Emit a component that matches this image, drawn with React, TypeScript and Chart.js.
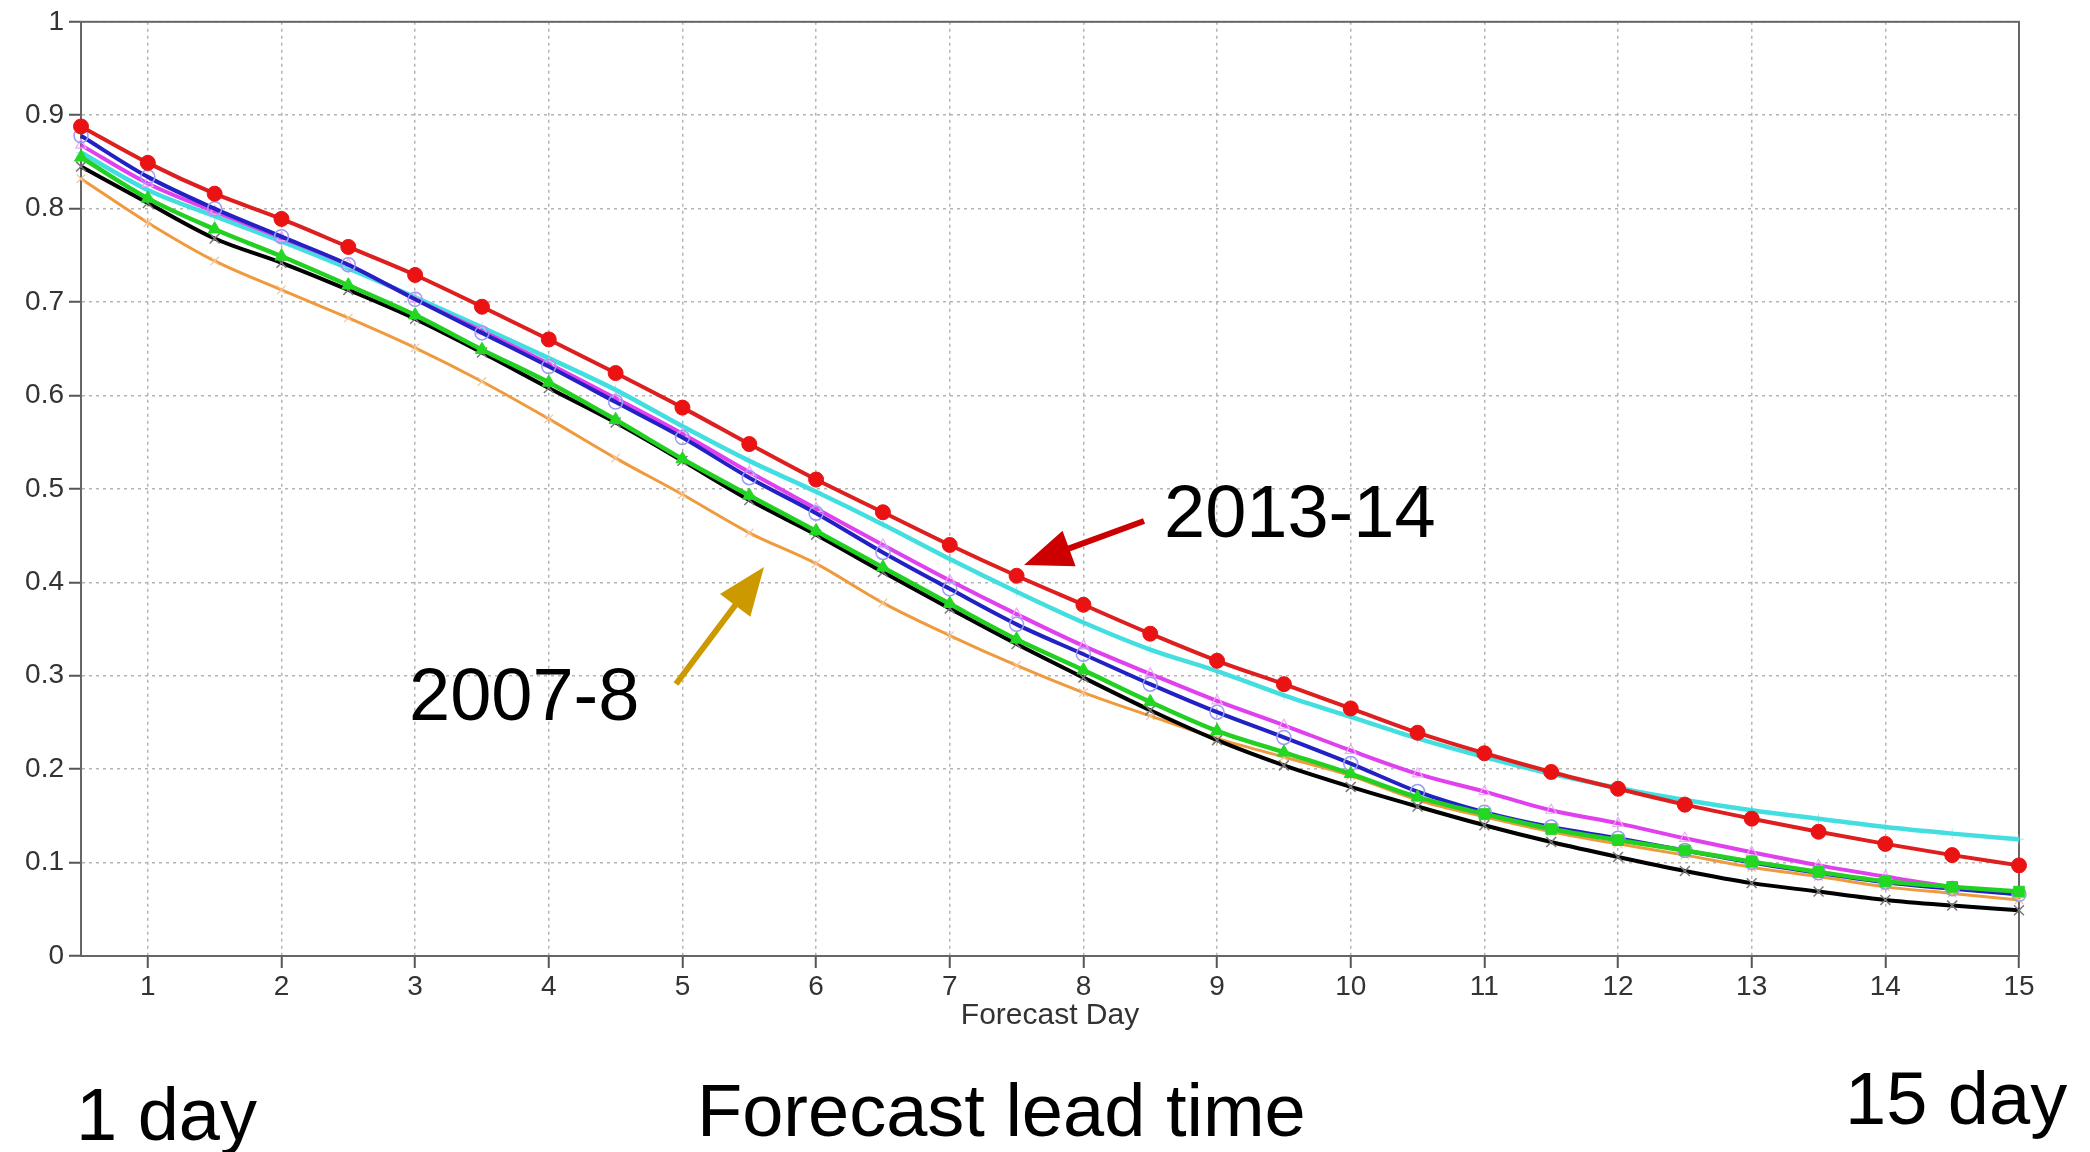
import React, { useEffect, useRef } from 'react';
import { Chart, registerables } from 'chart.js';

Chart.register(...registerables);

const FONT = '"Liberation Sans", Arial, Helvetica, sans-serif';

// Forecast lead time (days)
const days = [0.5, 1, 1.5, 2, 2.5, 3, 3.5, 4, 4.5, 5, 5.5, 6, 6.5, 7, 7.5, 8, 8.5, 9, 9.5, 10, 10.5, 11, 11.5, 12, 12.5, 13, 13.5, 14, 14.5, 15];
const xTickValues = [1, 2, 3, 4, 5, 6, 7, 8, 9, 10, 11, 12, 13, 14, 15];

// Series
const red2013_14 = [0.888, 0.849, 0.816, 0.789, 0.759, 0.729, 0.695, 0.660, 0.624, 0.587, 0.548, 0.510, 0.475, 0.440, 0.407, 0.376, 0.345, 0.316, 0.291, 0.265, 0.239, 0.217, 0.197, 0.179, 0.162, 0.147, 0.133, 0.120, 0.108, 0.097];
const cyanSeries = [0.860, 0.820, 0.792, 0.765, 0.736, 0.705, 0.673, 0.640, 0.606, 0.567, 0.530, 0.497, 0.462, 0.425, 0.390, 0.357, 0.328, 0.305, 0.279, 0.256, 0.233, 0.213, 0.195, 0.180, 0.167, 0.156, 0.147, 0.138, 0.131, 0.125];
const magentaSeries = [0.868, 0.827, 0.797, 0.769, 0.740, 0.703, 0.669, 0.634, 0.597, 0.559, 0.518, 0.479, 0.440, 0.402, 0.366, 0.332, 0.302, 0.273, 0.247, 0.220, 0.195, 0.176, 0.156, 0.142, 0.126, 0.111, 0.097, 0.085, 0.074, 0.066];
const blueSeries = [0.878, 0.834, 0.800, 0.770, 0.740, 0.703, 0.667, 0.631, 0.593, 0.555, 0.512, 0.474, 0.432, 0.393, 0.355, 0.323, 0.291, 0.261, 0.234, 0.206, 0.176, 0.154, 0.138, 0.126, 0.113, 0.100, 0.089, 0.079, 0.072, 0.066];
const greenSeries = [0.855, 0.811, 0.778, 0.749, 0.718, 0.686, 0.649, 0.614, 0.574, 0.532, 0.493, 0.455, 0.416, 0.377, 0.339, 0.306, 0.272, 0.241, 0.218, 0.195, 0.170, 0.152, 0.136, 0.124, 0.113, 0.101, 0.090, 0.080, 0.074, 0.069];
const blackSeries = [0.845, 0.806, 0.768, 0.742, 0.713, 0.682, 0.646, 0.608, 0.571, 0.530, 0.488, 0.451, 0.411, 0.372, 0.334, 0.298, 0.263, 0.231, 0.204, 0.181, 0.160, 0.140, 0.122, 0.106, 0.091, 0.078, 0.069, 0.060, 0.054, 0.049];
const orange2007_8 = [0.832, 0.785, 0.744, 0.713, 0.683, 0.651, 0.615, 0.575, 0.533, 0.494, 0.453, 0.420, 0.378, 0.343, 0.311, 0.282, 0.257, 0.233, 0.213, 0.193, 0.167, 0.149, 0.133, 0.120, 0.108, 0.095, 0.085, 0.074, 0.067, 0.060];

const toPoints = (vals: number[]) => days.map((d, i) => ({ x: d, y: vals[i] }));

function drawArrow(ctx: CanvasRenderingContext2D, x1: number, y1: number, x2: number, y2: number, color: string) {
  const ang = Math.atan2(y2 - y1, x2 - x1);
  const headLen = 48;
  const headHalf = 19;
  const bx = x2 - headLen * Math.cos(ang);
  const by = y2 - headLen * Math.sin(ang);
  ctx.save();
  ctx.strokeStyle = color;
  ctx.fillStyle = color;
  ctx.lineWidth = 6;
  ctx.lineCap = 'butt';
  ctx.beginPath();
  ctx.moveTo(x1, y1);
  ctx.lineTo(bx + 2 * Math.cos(ang), by + 2 * Math.sin(ang));
  ctx.stroke();
  ctx.beginPath();
  ctx.moveTo(x2, y2);
  ctx.lineTo(bx + headHalf * Math.sin(ang), by - headHalf * Math.cos(ang));
  ctx.lineTo(bx - headHalf * Math.sin(ang), by + headHalf * Math.cos(ang));
  ctx.closePath();
  ctx.fill();
  ctx.restore();
}

const framePlugin = {
  id: 'frame',
  beforeDatasetsDraw(chart: any) {
    const { ctx, chartArea } = chart;
    ctx.save();
    ctx.strokeStyle = '#666';
    ctx.lineWidth = 2;
    ctx.strokeRect(chartArea.left, chartArea.top, chartArea.right - chartArea.left, chartArea.bottom - chartArea.top);
    ctx.restore();
  },
};

const annotationPlugin = {
  id: 'annotations',
  afterDraw(chart: any) {
    const ctx: CanvasRenderingContext2D = chart.ctx;
    ctx.save();
    ctx.fillStyle = '#000';
    ctx.font = `74px ${FONT}`;
    ctx.textAlign = 'left';
    ctx.textBaseline = 'alphabetic';
    ctx.fillText('2013-14', 1164, 537);
    ctx.fillText('2007-8', 409, 720);
    ctx.fillText('1 day', 76, 1140);
    ctx.fillText('Forecast lead time', 697, 1136);
    ctx.fillText('15 day', 1845, 1124);
    ctx.restore();
    drawArrow(ctx, 1144, 521, 1024, 565, '#cc0000');
    drawArrow(ctx, 676, 684, 764, 567, '#cc9900');
  },
};

export default function App() {
  const ref = useRef<HTMLCanvasElement | null>(null);

  useEffect(() => {
    if (!ref.current) return;
    const datasets: any[] = [
      {
        label: '2013-14',
        data: toPoints(red2013_14),
        borderColor: '#dd1f1f',
        backgroundColor: '#ea1212',
        borderWidth: 4,
        pointStyle: 'circle',
        pointRadius: 7.5,
        pointBackgroundColor: '#ea1212',
        pointBorderColor: '#ea1212',
        pointBorderWidth: 1,
      },
      {
        label: 'green',
        data: toPoints(greenSeries),
        borderColor: '#22d022',
        borderWidth: 4.5,
        pointStyle: (c: any) => (c.dataIndex >= 21 ? 'rect' : 'triangle'),
        pointRadius: 7.5,
        pointBackgroundColor: '#22d822',
        pointBorderColor: '#22d822',
        pointBorderWidth: 1,
      },
      {
        label: 'blue',
        data: toPoints(blueSeries),
        borderColor: '#2222c4',
        borderWidth: 4,
        pointStyle: 'circle',
        pointRadius: 7,
        pointBackgroundColor: 'rgba(0,0,0,0)',
        pointBorderColor: '#9c9cf4',
        pointBorderWidth: 1.5,
      },
      {
        label: 'magenta',
        data: toPoints(magentaSeries),
        borderColor: '#e040ee',
        borderWidth: 4,
        pointStyle: 'triangle',
        pointRadius: 6,
        pointBackgroundColor: 'rgba(0,0,0,0)',
        pointBorderColor: '#f0a8f8',
        pointBorderWidth: 1.2,
      },
      {
        label: 'cyan',
        data: toPoints(cyanSeries),
        borderColor: '#42dee0',
        borderWidth: 4.5,
        pointStyle: 'cross',
        pointRadius: 5,
        pointBorderColor: 'rgba(66,222,224,0.5)',
        pointBorderWidth: 1,
      },
      {
        label: 'black',
        data: toPoints(blackSeries),
        borderColor: '#000000',
        borderWidth: 4,
        pointStyle: 'crossRot',
        pointRadius: 7,
        pointBorderColor: '#777777',
        pointBorderWidth: 1.5,
      },
      {
        label: '2007-8',
        data: toPoints(orange2007_8),
        borderColor: '#f09a3e',
        borderWidth: 3,
        pointStyle: 'crossRot',
        pointRadius: 6,
        pointBorderColor: '#f6c494',
        pointBorderWidth: 1.2,
      },
    ].map((d) => ({ ...d, cubicInterpolationMode: 'monotone', clip: 12, fill: false }));

    const chart = new Chart(ref.current, {
      type: 'line',
      data: { datasets },
      options: {
        responsive: false,
        animation: false,
        devicePixelRatio: 1,
        events: [],
        layout: { padding: { left: 0, right: 71, top: 20, bottom: 0 } },
        plugins: {
          legend: { display: false },
          tooltip: { enabled: false },
        },
        scales: {
          x: {
            type: 'linear',
            min: 0.5,
            max: 15,
            afterBuildTicks: (s: any) => {
              s.ticks = xTickValues.map((v) => ({ value: v }));
            },
            afterFit: (s: any) => {
              s.height = 196;
            },
            ticks: {
              autoSkip: false,
              maxRotation: 0,
              padding: 2,
              color: '#333',
              font: { size: 28, family: FONT },
            },
            grid: {
              color: '#b4b4b4',
              lineWidth: 1.5,
              tickLength: 12,
              tickColor: '#555',
              tickWidth: 2,
              tickBorderDash: [],
            },
            border: { color: '#666', width: 2, dash: [3, 4] },
            title: {
              display: true,
              text: 'Forecast Day',
              color: '#333',
              font: { size: 30, family: FONT },
              padding: { top: 0, bottom: 118 },
            },
          },
          y: {
            type: 'linear',
            min: 0,
            max: 1,
            afterFit: (s: any) => {
              s.width = 81;
            },
            ticks: {
              stepSize: 0.1,
              padding: 5,
              color: '#333',
              font: { size: 28, family: FONT },
              callback: (v: any) => {
                const n = Number(v);
                if (Math.abs(n) < 1e-9) return '0';
                if (Math.abs(n - 1) < 1e-9) return '1';
                return n.toFixed(1);
              },
            },
            grid: {
              color: '#b4b4b4',
              lineWidth: 1.5,
              tickLength: 12,
              tickColor: '#555',
              tickWidth: 2,
              tickBorderDash: [],
            },
            border: { color: '#666', width: 2, dash: [3, 4] },
          },
        },
      } as any,
      plugins: [framePlugin, annotationPlugin],
    });
    return () => chart.destroy();
  }, []);

  return (
    <div style={{ position: 'absolute', left: 0, top: 0, width: 2090, height: 1152, background: '#fff' }}>
      <canvas ref={ref} width={2090} height={1152} style={{ display: 'block' }} />
    </div>
  );
}
